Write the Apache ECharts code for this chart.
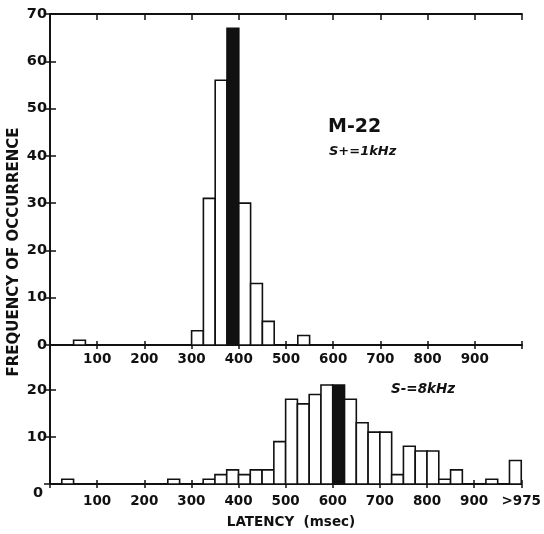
<!DOCTYPE html>
<html lang="en">
<head>
    <meta charset="UTF-8">
    <title>M-22 latency</title>
    <script src="https://cdn.jsdelivr.net/npm/echarts@6/dist/echarts.min.js"></script>
    <style>
        html, body { margin: 0; padding: 0; background: #fff; }
    </style>
</head>
<body>
    <div id="chart1" style="width: 544px;height: 534px;"></div>
    <script type="text/javascript">
        // 25 msec bins, bin start values
        var binSize = 25;
        var binStarts = [];
        for (var i = 0; i < 40; i++) binStarts.push(i * binSize);

        // S+ = 1kHz (top panel)
        var countsTop = [0, 0, 1, 0, 0, 0, 0, 0, 0, 0,
                         0, 0, 3, 31, 56, 67, 30, 13, 5, 0,
                         0, 2, 0, 0, 0, 0, 0, 0, 0, 0,
                         0, 0, 0, 0, 0, 0, 0, 0, 0, 0];
        var modeTop = 375;   // filled bin

        // S- = 8kHz (bottom panel)
        var countsBottom = [0, 1, 0, 0, 0, 0, 0, 0, 0, 0,
                            1, 0, 0, 1, 2, 3, 2, 3, 3, 9,
                            18, 17, 19, 21, 21, 18, 13, 11, 11, 2,
                            8, 7, 7, 1, 3, 0, 0, 1, 0, 5];
        var modeBottom = 600;

        var xTicksTop = ['', '100', '200', '300', '400', '500', '600', '700', '800', '900', ''];
        var xTicksBottom = ['', '100', '200', '300', '400', '500', '600', '700', '800', '900', '>975'];

        var ink = '#111';
        var font = 'DejaVu Sans';

        function toData(counts, mode) {
            var arr = [];
            for (var i = 0; i < counts.length; i++) {
                if (counts[i] > 0) arr.push([binStarts[i], counts[i], binStarts[i] === mode ? 1 : 0]);
            }
            return arr;
        }

        function renderBin(params, api) {
            var x0 = api.value(0);
            var p0 = api.coord([x0, api.value(1)]);
            var p1 = api.coord([x0 + binSize, 0]);
            return {
                type: 'rect',
                shape: { x: p0[0], y: p0[1], width: p1[0] - p0[0], height: p1[1] - p0[1] },
                style: { fill: api.value(2) ? ink : '#fff', stroke: ink, lineWidth: 1.6 }
            };
        }

        var labelStyle = { color: ink, fontFamily: font, fontWeight: 'bold', fontSize: 13.5 };

        function xAxisMain(grid, ticks, margin) {
            return {
                type: 'value', gridIndex: grid, position: 'bottom', min: 0, max: 1000, interval: 100,
                axisLine: { show: true, lineStyle: { color: ink, width: 1.8 } },
                axisTick: { show: true, inside: false, length: 4, lineStyle: { color: ink, width: 1.5 } },
                splitLine: { show: false },
                axisLabel: Object.assign({
                    margin: margin,
                    showMinLabel: true, showMaxLabel: true,
                    formatter: function (v) { return ticks[Math.round(v / 100)]; }
                }, labelStyle)
            };
        }
        function xAxisInner(grid, pos) {
            return {
                type: 'value', gridIndex: grid, position: pos, min: 0, max: 1000, interval: 100,
                axisLine: { show: pos === 'top', lineStyle: { color: ink, width: 1.8 } },
                axisTick: { show: true, inside: true, length: pos === 'top' ? 6 : 4, lineStyle: { color: ink, width: 1.5 } },
                splitLine: { show: false },
                axisLabel: { show: false }
            };
        }
        function yAxisFrame(grid, pos, max, withLabels) {
            var ax = {
                type: 'value', gridIndex: grid, position: pos, min: 0, max: max, interval: 10,
                axisLine: { show: true, lineStyle: { color: ink, width: 1.8 } },
                axisTick: { show: true, inside: true, length: 6, lineStyle: { color: ink, width: 1.5 } },
                splitLine: { show: false },
                axisLabel: { show: false }
            };
            if (withLabels) ax.axisLabel = Object.assign({ margin: 3 }, labelStyle, { fontSize: 14.5 });
            return ax;
        }

        var yBottomLeft = yAxisFrame(1, 'left', 29.5, true);
        yBottomLeft.axisLabel.showMaxLabel = false;
        yBottomLeft.axisLabel.formatter = function (v) { return v === 0 ? '{low|0}' : String(v); };
        yBottomLeft.axisLabel.rich = {
            low: { fontFamily: font, fontWeight: 'bold', fontSize: 14.5, color: ink, padding: [18, 4, 0, 0] }
        };

        var chart1 = echarts.init(document.getElementById('chart1'));
        var option = {
            backgroundColor: '#fff',
            animation: false,
            grid: [
                { left: 50, right: 22, top: 14, height: 331 },
                { left: 50, right: 22, top: 345, height: 139 }
            ],
            xAxis: [
                xAxisMain(0, xTicksTop, 7),
                xAxisInner(0, 'bottom'),
                xAxisInner(0, 'top'),
                xAxisMain(1, xTicksBottom, 10),
                xAxisInner(1, 'bottom')
            ],
            yAxis: [
                yAxisFrame(0, 'left', 70, true),
                yAxisFrame(0, 'right', 70, false),
                yBottomLeft,
                yAxisFrame(1, 'right', 29.5, false)
            ],
            series: [
                {
                    name: 'S+ = 1kHz', type: 'custom', xAxisIndex: 0, yAxisIndex: 0,
                    renderItem: renderBin, data: toData(countsTop, modeTop), silent: true
                },
                {
                    name: 'S- = 8kHz', type: 'custom', xAxisIndex: 3, yAxisIndex: 2,
                    renderItem: renderBin, data: toData(countsBottom, modeBottom), silent: true
                }
            ],
            graphic: [
                {
                    type: 'text', x: 14, y: 252, rotation: Math.PI / 2,
                    style: { text: 'FREQUENCY OF OCCURRENCE', fill: ink, font: 'bold 15px ' + font, align: 'center', verticalAlign: 'middle' }
                },
                {
                    type: 'text', x: 291, y: 522,
                    style: { text: 'LATENCY  (msec)', fill: ink, font: 'bold 13.5px ' + font, align: 'center', verticalAlign: 'middle' }
                },
                {
                    type: 'text', x: 328, y: 127,
                    style: { text: 'M-22', fill: ink, font: 'bold 19px ' + font, align: 'left', verticalAlign: 'middle' }
                },
                {
                    type: 'text', x: 329, y: 152,
                    style: { text: 'S+=1kHz', fill: ink, font: 'italic bold 13px ' + font, align: 'left', verticalAlign: 'middle' }
                },
                {
                    type: 'text', x: 391, y: 389,
                    style: { text: 'S-=8kHz', fill: ink, font: 'italic bold 13.5px ' + font, align: 'left', verticalAlign: 'middle' }
                }
            ]
        };
        chart1.setOption(option);
    </script>
</body>
</html>
